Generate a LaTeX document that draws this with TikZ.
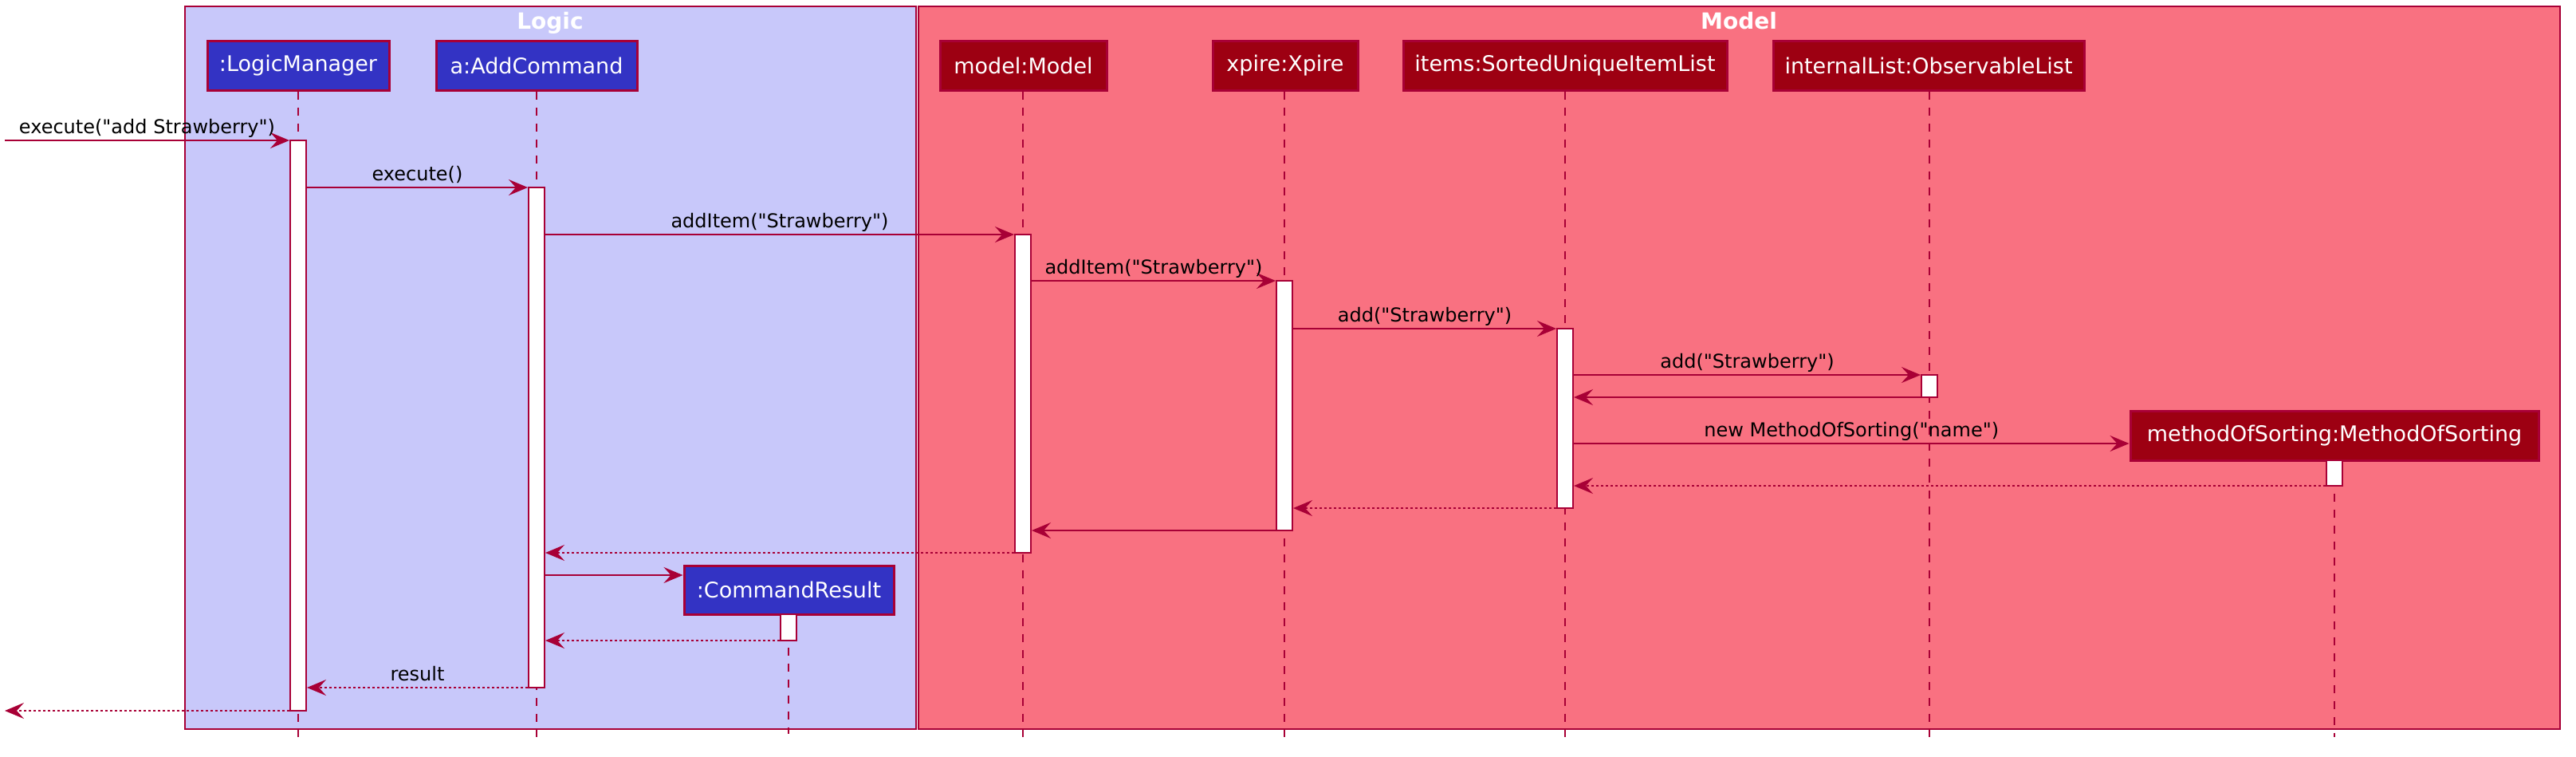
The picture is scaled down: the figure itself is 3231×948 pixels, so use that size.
\documentclass[tikz,border=0pt]{standalone}
\usepackage{fontspec}
\setmainfont{DejaVu Sans}[Ligatures=TeXOff]
\usetikzlibrary{arrows.meta}
\definecolor{bordc}{HTML}{A80036}
\definecolor{logicc}{HTML}{3333C4}
\definecolor{logicbg}{HTML}{C8C8FA}
\definecolor{modelc}{HTML}{9D0012}
\definecolor{modelbg}{HTML}{F97181}
\begin{document}
\begin{tikzpicture}[x=0.5pt,y=-0.5pt,
  grp/.style={draw=bordc, line width=1pt},
  grptitle/.style={text=white, font=\fontsize{14}{16}\selectfont\bfseries, anchor=base, inner sep=0pt},
  part/.style={draw=bordc, line width=1.5pt, text=white, inner sep=0pt, minimum height=31pt, font=\fontsize{13.5}{16}\selectfont},
  lpart/.style={part, fill=logicc},
  mpart/.style={part, fill=modelc},
  act/.style={draw=bordc, fill=white, line width=1pt, minimum width=10pt, inner sep=0pt},
  life/.style={draw=bordc, line width=1pt, dash pattern=on 5pt off 5pt},
  msg/.style={draw=bordc, line width=1pt, -{Stealth[length=12pt,width=10pt,inset=4.5pt]}},
  ret/.style={msg, dash pattern=on 1.5pt off 1.5pt},
  lbl/.style={font=\fontsize{12}{14}\selectfont, anchor=base, inner sep=0pt, yshift=4.5pt}
]
\useasboundingbox (0,0) rectangle (3231,948);
% group boxes
\draw[grp, fill=logicbg] (232,8) rectangle (1149,914);
\draw[grp, fill=modelbg] (1152,8) rectangle (3211,914);
\node[grptitle] (tLogic) at (690,36) {Logic};
\node[grptitle] (tModel) at (2181,36) {Model};
% participants
\node[lpart, minimum width=114pt] (pLM) at (374,82) {:LogicManager};
\node[lpart, minimum width=126pt] (pAC) at (673,82) {a:AddCommand};
\node[mpart, minimum width=104.5pt] (pMo) at (1283.5,82) {model:Model};
\node[mpart, minimum width=91pt] (pXp) at (1612,82) {xpire:Xpire};
\node[mpart, minimum width=203pt] (pIt) at (1963,82) {items:SortedUniqueItemList};
\node[mpart, minimum width=195pt] (pIL) at (2419,82) {internalList:ObservableList};
\node[lpart, minimum width=131.5pt, minimum height=30.5pt] (pCR) at (989.5,739.5) {:CommandResult};
\node[mpart, minimum width=256pt] (pMS) at (2928,546) {methodOfSorting:MethodOfSorting};
% lifeline ends
\coordinate (eLM) at (374,924);
\coordinate (eAC) at (673,924);
\coordinate (eMo) at (1283,924);
\coordinate (eXp) at (1611,924);
\coordinate (eIt) at (1963,924);
\coordinate (eIL) at (2420,924);
\coordinate (eCR) at (989,920);
\coordinate (eMS) at (2928,924);
\draw[life] (pLM.south -| eLM) -- (eLM);
\draw[life] (pAC.south -| eAC) -- (eAC);
\draw[life] (pMo.south -| eMo) -- (eMo);
\draw[life] (pXp.south -| eXp) -- (eXp);
\draw[life] (pIt.south -| eIt) -- (eIt);
\draw[life] (pIL.south -| eIL) -- (eIL);
\draw[life] (pCR.south -| eCR) -- (eCR);
\draw[life] (pMS.south -| eMS) -- (eMS);
% activations
\node[act, minimum height=357.5pt] (aLM) at (374,533.5) {};
\node[act, minimum height=313.5pt] (aAC) at (673,548.5) {};
\node[act, minimum height=199.5pt] (aMo) at (1283,493.5) {};
\node[act, minimum height=156.5pt] (aXp) at (1611,508.5) {};
\node[act, minimum height=112.5pt] (aIt) at (1963,524.5) {};
\node[act, minimum height=14pt] (aIL) at (2420,484) {};
\node[act, minimum height=16.5pt] (aCR) at (989,786.5) {};
\node[act, minimum height=16pt] (aMS) at (2928,593) {};
% free ends
\coordinate (inL) at (6,176);
\coordinate (outL) at (6,891);
% messages
\draw[msg] (inL) -- (aLM.west |- inL) node[lbl, midway] {execute("add Strawberry")};
\draw[msg] (aLM.east |- 0,235) -- (aAC.west |- 0,235) node[lbl, midway] {execute()};
\draw[msg] (aAC.east |- 0,294) -- (aMo.west |- 0,294) node[lbl, midway] {addItem("Strawberry")};
\draw[msg] (aMo.east |- 0,352) -- (aXp.west |- 0,352) node[lbl, midway] {addItem("Strawberry")};
\draw[msg] (aXp.east |- 0,412) -- (aIt.west |- 0,412) node[lbl, midway] {add("Strawberry")};
\draw[msg] (aIt.east |- 0,470) -- (aIL.west |- 0,470) node[lbl, midway] {add("Strawberry")};
\draw[msg] (aIL.west |- 0,498) -- (aIt.east |- 0,498);
\draw[msg] (aIt.east |- 0,556) -- (pMS.west |- 0,556) node[lbl, midway] {new MethodOfSorting("name")};
\draw[ret] (aMS.west |- 0,609) -- (aIt.east |- 0,609);
\draw[ret] (aIt.west |- 0,637) -- (aXp.east |- 0,637);
\draw[msg] (aXp.west |- 0,665) -- (aMo.east |- 0,665);
\draw[ret] (aMo.west |- 0,693) -- (aAC.east |- 0,693);
\draw[msg] (aAC.east |- 0,721) -- (pCR.west |- 0,721);
\draw[ret] (aCR.west |- 0,803) -- (aAC.east |- 0,803);
\draw[ret] (aAC.west |- 0,862) -- (aLM.east |- 0,862) node[lbl, midway] {result};
\draw[ret] (aLM.west |- outL) -- (outL);
\end{tikzpicture}
\end{document}
